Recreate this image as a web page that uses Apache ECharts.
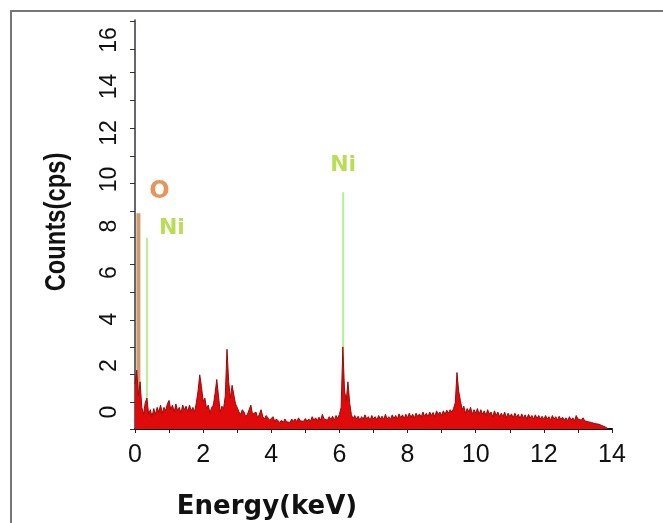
<!DOCTYPE html>
<html style="height: 100%">
<head>
    <meta charset="utf-8">
    <title>EDS spectrum</title>
    <script src="https://cdn.jsdelivr.net/npm/echarts@6/dist/echarts.min.js"></script>
    <style>
        html, body { margin: 0; padding: 0; background: #fff; }
        #container { width: 663px; height: 523px; }
    </style>
</head>
<body>
<div id="container"></div>
<script>
    // tick labels
    var xLabels = [0, 2, 4, 6, 8, 10, 12, 14];
    var xTicks = [0, 1, 2, 3, 4, 5, 6, 7, 8, 9, 10, 11, 12, 13, 14];
    var yLabels = [0, 2, 4, 6, 8, 10, 12, 14, 16];
    // the y ticks of the original do not sit on the labels
    var yTicks = [-0.73, 0.43, 1.63, 2.8, 3.96, 5.16, 6.37, 7.53, 8.65, 9.85, 11.0, 12.2, 13.4, 14.6, 15.6, 16.8];

    // spectrum: [energy keV, counts cps]
    var spectrum = [
        [0.00,1.2],[0.05,1.8],[0.10,0.7],[0.15,1.3],[0.20,0.2],[0.25,-0.1],[0.30,0.4],[0.35,0.6],[0.40,-0.1],[0.45,0.1],
        [0.50,-0.2],[0.55,0.15],[0.60,-0.1],[0.65,0.2],[0.70,0.0],[0.75,0.3],[0.80,-0.05],[0.85,0.2],[0.90,0.05],[0.95,0.35],
        [1.00,0.5],[1.05,0.1],[1.10,0.3],[1.15,0.0],[1.20,0.35],[1.25,0.05],[1.30,0.2],[1.35,-0.05],[1.40,0.3],[1.45,0.1],
        [1.50,0.25],[1.55,0.0],[1.60,0.3],[1.65,0.05],[1.70,0.2],[1.75,0.0],[1.80,0.4],[1.85,0.9],[1.90,1.6],[1.95,1.1],
        [2.00,0.45],[2.05,0.6],[2.10,0.15],[2.15,0.3],[2.20,-0.05],[2.25,0.2],[2.30,0.3],[2.35,0.8],[2.40,1.4],[2.45,0.7],
        [2.50,0.0],[2.55,0.25],[2.60,0.15],[2.65,0.7],[2.70,2.7],[2.75,1.3],[2.80,0.6],[2.85,1.15],[2.90,0.75],[2.95,0.35],
        [3.00,0.2],[3.05,0.0],[3.10,-0.1],[3.15,0.1],[3.20,0.0],[3.25,-0.2],[3.30,-0.1],[3.35,0.1],[3.40,0.3],[3.45,-0.1],
        [3.50,-0.15],[3.55,0.0],[3.60,-0.25],[3.65,-0.1],[3.70,0.1],[3.75,-0.2],[3.80,-0.3],[3.85,-0.15],[3.90,-0.2],[3.95,-0.35],
        [4.00,-0.3],[4.05,-0.2],[4.10,-0.4],[4.15,-0.3],[4.20,-0.3],[4.25,-0.45],[4.30,-0.35],[4.35,-0.45],[4.40,-0.3],[4.45,-0.42],
        [4.50,-0.35],[4.55,-0.45],[4.60,-0.3],[4.65,-0.4],[4.70,-0.3],[4.75,-0.42],[4.80,-0.25],[4.85,-0.38],[4.90,-0.3],[4.95,-0.4],
        [5.00,-0.28],[5.05,-0.4],[5.10,-0.3],[5.15,-0.4],[5.20,-0.2],[5.25,-0.35],[5.30,-0.25],[5.35,-0.38],[5.40,-0.22],[5.45,-0.35],
        [5.50,-0.1],[5.55,-0.3],[5.60,-0.25],[5.65,-0.35],[5.70,-0.2],[5.75,-0.32],[5.80,-0.18],[5.85,-0.35],[5.90,-0.15],[5.95,-0.28],
        [6.00,-0.1],[6.05,0.2],[6.10,2.8],[6.15,0.9],[6.20,0.5],[6.25,1.3],[6.30,0.4],[6.35,-0.1],[6.40,-0.3],[6.45,-0.15],
        [6.50,-0.3],[6.55,-0.18],[6.60,-0.35],[6.65,-0.2],[6.70,-0.3],[6.75,-0.12],[6.80,-0.3],[6.85,-0.2],[6.90,-0.35],[6.95,-0.15],
        [7.00,-0.3],[7.05,-0.2],[7.10,-0.35],[7.15,-0.15],[7.20,-0.3],[7.25,-0.18],[7.30,-0.32],[7.35,-0.1],[7.40,-0.3],[7.45,-0.2],
        [7.50,-0.32],[7.55,-0.12],[7.60,-0.28],[7.65,-0.15],[7.70,-0.3],[7.75,-0.08],[7.80,-0.25],[7.85,-0.12],[7.90,-0.28],[7.95,-0.1],
        [8.00,-0.25],[8.05,-0.05],[8.10,-0.22],[8.15,-0.1],[8.20,-0.25],[8.25,-0.05],[8.30,-0.2],[8.35,-0.08],[8.40,-0.22],[8.45,0.0],
        [8.50,-0.18],[8.55,-0.05],[8.60,-0.2],[8.65,0.0],[8.70,-0.15],[8.75,-0.02],[8.80,-0.2],[8.85,0.05],[8.90,-0.1],[8.95,0.0],
        [9.00,-0.15],[9.05,0.05],[9.10,-0.1],[9.15,0.08],[9.20,-0.05],[9.25,0.1],[9.30,0.0],[9.35,0.15],[9.40,0.4],[9.45,1.7],
        [9.50,0.9],[9.55,0.5],[9.60,0.1],[9.65,0.25],[9.70,-0.05],[9.75,0.15],[9.80,0.0],[9.85,0.2],[9.90,-0.1],[9.95,0.1],
        [10.00,-0.05],[10.05,0.15],[10.10,-0.1],[10.15,0.1],[10.20,-0.1],[10.25,0.05],[10.30,-0.15],[10.35,0.1],[10.40,-0.1],[10.45,0.0],
        [10.50,-0.2],[10.55,0.05],[10.60,-0.15],[10.65,0.0],[10.70,-0.2],[10.75,-0.05],[10.80,-0.2],[10.85,0.0],[10.90,-0.25],[10.95,-0.05],
        [11.00,-0.2],[11.05,-0.08],[11.10,-0.25],[11.15,-0.05],[11.20,-0.22],[11.25,-0.1],[11.30,-0.28],[11.35,-0.08],[11.40,-0.25],[11.45,-0.12],
        [11.50,-0.3],[11.55,-0.1],[11.60,-0.25],[11.65,-0.15],[11.70,-0.3],[11.75,-0.12],[11.80,-0.28],[11.85,-0.15],[11.90,-0.3],[11.95,-0.18],
        [12.00,-0.32],[12.05,-0.15],[12.10,-0.3],[12.15,-0.2],[12.20,-0.35],[12.25,-0.15],[12.30,-0.3],[12.35,-0.2],[12.40,-0.35],[12.45,-0.18],
        [12.50,-0.32],[12.55,-0.22],[12.60,-0.35],[12.65,-0.25],[12.70,-0.38],[12.75,-0.2],[12.80,-0.35],[12.85,-0.25],[12.90,-0.38],[12.95,-0.15],
        [13.00,-0.3],[13.05,-0.22],[13.10,-0.35],[13.15,-0.25],[13.20,-0.38],[13.25,-0.3],[13.30,-0.42],[13.35,-0.35],[13.40,-0.45],[13.45,-0.4],
        [13.50,-0.5],[13.55,-0.45],[13.60,-0.52],[13.65,-0.55],[13.70,-0.58],[13.75,-0.6],[13.80,-0.64],[13.85,-0.68],[13.90,-0.73]
    ];

    // element marker lines
    var markerName = ['O', 'Ni', 'Ni'];
    var markerEnergy = [0.1, 0.35, 6.11];
    var markerTop = [8.55, 7.5, 9.45];

    var yMin = -0.73, yMax = 16.86;

    var markerColors = ['#d39a6c', '#b6ee9a', '#b6ee9a'];
    var markerWidths = [4, 2, 2];
    var labelColors = ['#e07a35', '#a8d62c', '#a8d62c'];
    var labelOffsets = [[21, -21], [25, -9], [0, -27]];

    var myChart = echarts.init(document.getElementById('container'));

    var series = [];
    markerEnergy.forEach(function (e, i) {
        series.push({
            type: 'line',
            data: [[e, yMin], [e, markerTop[i]]],
            showSymbol: false,
            silent: true,
            z: 1,
            lineStyle: { color: markerColors[i], width: markerWidths[i] }
        });
    });
    series.push({
        name: 'spectrum',
        type: 'line',
        data: spectrum,
        showSymbol: false,
        z: 3,
        lineStyle: { color: '#9a0a0a', width: 1 },
        areaStyle: { color: '#e00a0a', opacity: 1, origin: 'start' }
    });
    series.push({
        type: 'scatter',
        symbolSize: 0,
        z: 4,
        data: markerEnergy.map(function (e, i) {
            return {
                value: [e, markerTop[i]],
                label: {
                    show: true,
                    formatter: markerName[i],
                    offset: labelOffsets[i],
                    color: labelColors[i],
                    fontFamily: 'DejaVu Sans',
                    fontWeight: 'bold',
                    fontSize: i === 0 ? 24 : 22
                }
            };
        })
    });

    var option = {
        backgroundColor: '#fff',
        animation: false,
        grid: { left: 135, right: 51, top: 20, bottom: 94 },
        xAxis: {
            type: 'value',
            min: 0,
            max: 14,
            splitLine: { show: false },
            axisLine: { onZero: false, lineStyle: { color: '#111', width: 2 } },
            axisTick: { customValues: xTicks, length: 4, lineStyle: { color: '#222' } },
            axisLabel: {
                customValues: xLabels,
                margin: 14,
                color: '#111',
                fontSize: 25,
                fontFamily: 'Liberation Sans'
            }
        },
        yAxis: {
            type: 'value',
            min: yMin,
            max: yMax,
            splitLine: { show: false },
            axisLine: { show: true, onZero: false, lineStyle: { color: '#334', width: 1.5 } },
            axisTick: { show: true, customValues: yTicks, length: 5, lineStyle: { color: '#333' } },
            axisLabel: {
                customValues: yLabels,
                rotate: 90,
                margin: 14,
                color: '#111',
                fontSize: 23,
                fontFamily: 'Liberation Sans'
            }
        },
        graphic: [
            {
                type: 'rect',
                shape: { x: 11, y: 11, width: 720, height: 620 },
                style: { fill: 'none', stroke: '#777', lineWidth: 2 }
            },
            {
                type: 'text',
                x: 57,
                y: 222,
                rotation: Math.PI / 2,
                scaleX: 0.82,
                style: {
                    text: 'Counts(cps)',
                    fill: '#111',
                    font: 'bold 29px "Liberation Sans", sans-serif',
                    textAlign: 'center',
                    textVerticalAlign: 'middle'
                }
            },
            {
                type: 'text',
                x: 267,
                y: 507,
                style: {
                    text: 'Energy(keV)',
                    fill: '#111',
                    font: 'bold 26px "DejaVu Sans", sans-serif',
                    textAlign: 'center',
                    textVerticalAlign: 'middle'
                }
            }
        ],
        series: series
    };

    myChart.setOption(option);
</script>
</body>
</html>
